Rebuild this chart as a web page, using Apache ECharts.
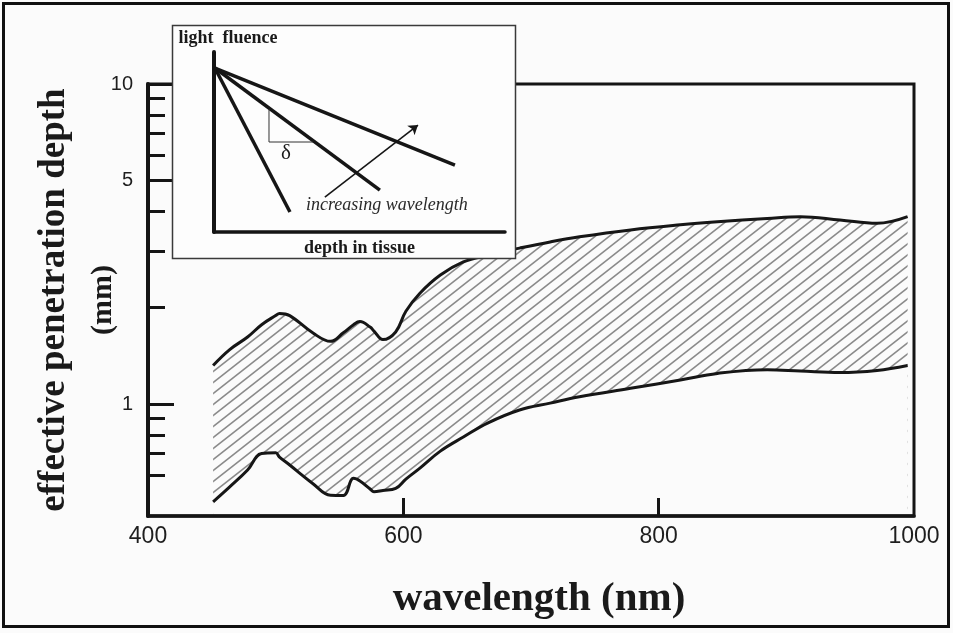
<!DOCTYPE html>
<html>
<head>
<meta charset="utf-8">
<script src="https://cdn.jsdelivr.net/npm/echarts@6/dist/echarts.min.js"></script>
<style>
html,body{margin:0;padding:0;background:#fbfbfb;}
#chart{width:953px;height:633px;}
</style>
</head>
<body>
<div id="chart"></div>
<script>
// ---- main chart data ----
const wavelengths = [451,464,478,489,500,503,511,529,543,553,561,566,574,577,584,594,602,613,629,647,666,691,715,738,778,817,846,885,911,942,971,995];
const upperDepth  = [1.32,1.48,1.62,1.77,1.89,1.92,1.89,1.67,1.57,1.67,1.77,1.81,1.74,1.69,1.59,1.68,1.95,2.22,2.53,2.78,2.92,3.07,3.21,3.33,3.50,3.63,3.71,3.80,3.85,3.76,3.67,3.85];
const lowerDepth  = [0.495,0.551,0.622,0.701,0.704,0.683,0.645,0.565,0.519,0.518,0.586,0.575,0.543,0.532,0.537,0.545,0.583,0.631,0.713,0.789,0.872,0.958,1.007,1.054,1.120,1.189,1.247,1.280,1.268,1.254,1.273,1.319];

// ---- axis ticks / labels ----
const xTickLabels = [400,600,800,1000];
const xMajorTicks = [600,800];
const yLabelTicks = [1,5,10];
const yMinorTicks = [0.6,0.7,0.8,0.9,2,3,4,6,7,8,9];

// ---- inset schematic (normalized 0..1 coordinates) ----
const insetSteep   = [[0.003,0.911],[0.261,0.111]];
const insetMid     = [[0.003,0.911],[0.570,0.233]];
const insetShallow = [[0.003,0.911],[0.828,0.372]];
const insetSlopeTriangle = [[0.189,0.683],[0.189,0.5],[0.340,0.5]];
const insetArrow   = [[0.381,0.194],[0.701,0.594]];

// hatch pattern
function makeHatch(){
  const W=14,H=11;
  const c=document.createElement('canvas');
  c.width=W;c.height=H;
  const ctx=c.getContext('2d');
  ctx.fillStyle='#fbfbfb';
  ctx.fillRect(0,0,W,H);
  ctx.strokeStyle='#8a8a8a';
  ctx.lineWidth=1.6;
  for(const dy of [-H,0,H]){
    ctx.beginPath();
    ctx.moveTo(-W,2*H+dy);
    ctx.lineTo(2*W,-H+dy);
    ctx.stroke();
  }
  return c;
}

const BG = '#fbfbfb';
const serif = '"Liberation Serif","Times New Roman",serif';
const sans = '"Liberation Sans",Arial,sans-serif';

const chart = echarts.init(document.getElementById('chart'), null, {renderer:'canvas'});
chart.setOption({
  backgroundColor:BG,
  animation:false,
  grid:[
    {left:148, top:84, right:39, bottom:117, show:true, borderColor:'#151515', borderWidth:3, backgroundColor:'transparent', z:9},
    {left:214, top:52, width:291, height:180}
  ],
  xAxis:[
    {
      type:'value', gridIndex:0, min:400, max:1000, z:10,
      name:'wavelength (nm)', nameLocation:'middle', nameGap:63, nameMoveOverlap:false,
      nameTextStyle:{fontFamily:serif, fontWeight:'bold', fontSize:41, color:'#1a1a1a', padding:[0,0,0,16]},
      axisLine:{show:true, lineStyle:{color:'#151515', width:3.5}},
      axisTick:{show:true, inside:true, length:18, customValues:xMajorTicks, lineStyle:{color:'#151515', width:3}},
      axisLabel:{show:true, customValues:xTickLabels, margin:9, fontFamily:sans, fontSize:23, color:'#1e1e1e', formatter:(v)=>String(v)},
      splitLine:{show:false}
    },
    {
      type:'value', gridIndex:1, min:0, max:1, z:60,
      name:'depth in tissue', nameLocation:'middle', nameGap:7,
      nameTextStyle:{fontFamily:serif, fontWeight:'bold', fontSize:18, color:'#1a1a1a'},
      axisLine:{show:true, lineStyle:{color:'#151515', width:3.5}},
      axisTick:{show:false}, axisLabel:{show:false}, splitLine:{show:false}
    }
  ],
  yAxis:[
    {
      type:'log', logBase:10, gridIndex:0, min:0.447, max:10, position:'left', z:10,
      name:'{a|effective penetration depth}\n{b|(mm)}', nameLocation:'middle', nameGap:20, nameMoveOverlap:false,
      nameTextStyle:{rich:{
        a:{fontFamily:serif, fontWeight:'bold', fontSize:37, lineHeight:49, color:'#1a1a1a'},
        b:{fontFamily:serif, fontWeight:'bold', fontSize:30, lineHeight:49, color:'#1a1a1a'}
      }},
      axisLine:{show:true, lineStyle:{color:'#151515', width:4}},
      axisTick:{show:true, inside:true, length:26, customValues:yLabelTicks, lineStyle:{color:'#151515', width:3}},
      axisLabel:{show:true, customValues:yLabelTicks, margin:15, fontFamily:sans, fontSize:20, color:'#1e1e1e', formatter:(v)=>String(v)},
      splitLine:{show:false}
    },
    {
      type:'log', logBase:10, gridIndex:0, min:0.447, max:10, position:'left', offset:0, z:10,
      axisLine:{show:false},
      axisTick:{show:true, inside:true, length:17, customValues:yMinorTicks, lineStyle:{color:'#151515', width:3}},
      axisLabel:{show:false}, splitLine:{show:false}
    },
    {
      type:'value', gridIndex:1, min:0, max:1, z:60,
      name:'light  fluence', nameLocation:'end', nameGap:5,
      nameTextStyle:{fontFamily:serif, fontWeight:'bold', fontSize:18, color:'#1a1a1a', align:'center', padding:[0,0,0,28]},
      axisLine:{show:true, lineStyle:{color:'#151515', width:4}},
      axisTick:{show:false}, axisLabel:{show:false}, splitLine:{show:false}
    }
  ],
  series:[
    {
      name:'upper', type:'line', xAxisIndex:0, yAxisIndex:0,
      data:wavelengths.map((w,i)=>[w,upperDepth[i]]),
      smooth:0.4, symbol:'none', z:2,
      lineStyle:{color:'#161616', width:3},
      areaStyle:{color:{image:makeHatch(), repeat:'repeat'}, opacity:1, origin:'start'}
    },
    {
      name:'lower', type:'line', xAxisIndex:0, yAxisIndex:0,
      data:wavelengths.map((w,i)=>[w,lowerDepth[i]]),
      smooth:0.4, symbol:'none', z:3,
      lineStyle:{color:'#161616', width:3},
      areaStyle:{color:BG, opacity:1, origin:'start'}
    },
    {
      type:'lines', coordinateSystem:'cartesian2d', xAxisIndex:1, yAxisIndex:2, z:62,
      symbol:['none','none'],
      lineStyle:{color:'#161616', width:3.5, opacity:1, curveness:0},
      data:[{coords:insetSteep},{coords:insetMid},{coords:insetShallow}]
    },
    {
      type:'lines', coordinateSystem:'cartesian2d', xAxisIndex:1, yAxisIndex:2, z:62, polyline:true,
      symbol:['none','none'],
      lineStyle:{color:'#333', width:1, opacity:1},
      data:[{coords:insetSlopeTriangle}]
    },
    {
      type:'lines', coordinateSystem:'cartesian2d', xAxisIndex:1, yAxisIndex:2, z:62,
      symbol:['none','arrow'], symbolSize:9,
      lineStyle:{color:'#161616', width:1.6, opacity:1, curveness:0},
      data:[{coords:insetArrow}]
    }
  ],
  graphic:[
    {type:'rect', z:50, shape:{x:172.5, y:25.5, width:343, height:233}, style:{fill:'#fdfdfd', stroke:'#3a3a3a', lineWidth:1.5}},
    {type:'text', z:70, left:281, top:143, style:{text:'δ', font:'21px '+serif, fill:'#1a1a1a'}},
    {type:'text', z:70, left:306, top:196, style:{text:'increasing wavelength', font:'italic 18px '+serif, fill:'#2a2a2a'}},
    {type:'rect', z:80, shape:{x:3.5, y:3.5, width:945, height:623}, style:{fill:'none', stroke:'#111', lineWidth:3}}
  ]
});
</script>
</body>
</html>
